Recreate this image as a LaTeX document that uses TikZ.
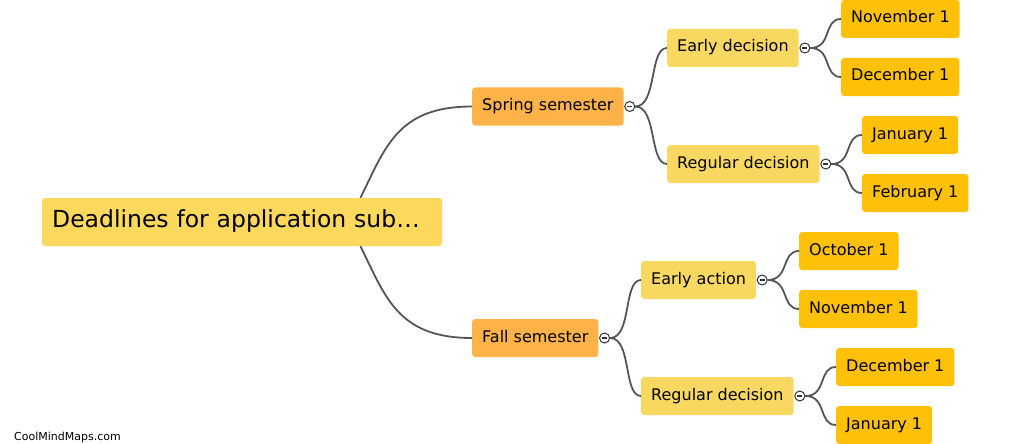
\documentclass[tikz,border=0pt]{standalone}
\usepackage{fontspec}
\setmainfont{DejaVu Sans}
\usepackage{xcolor}
\usetikzlibrary{positioning, calc}

\definecolor{rootfill}{HTML}{FCD85D}
\definecolor{semfill}{HTML}{FFB248}
\definecolor{kindfill}{HTML}{F9D862}
\definecolor{datefill}{HTML}{FFC107}
\definecolor{linkgray}{HTML}{555555}

\begin{document}
\begin{tikzpicture}[x=1pt, y=-1pt,
    box/.style={rounded corners=3pt, anchor=west, inner xsep=10pt, inner ysep=0pt,
                font=\fontsize{16}{19}\selectfont, text height=12pt, text depth=4pt,
                minimum height=38pt, text=black},
    rootbox/.style={box, fill=rootfill, font=\fontsize{23.5}{28}\selectfont,
                text width=380pt, align=left,
                text height=17pt, text depth=6pt, minimum height=48pt},
    sembox/.style={box, fill=semfill},
    kindbox/.style={box, fill=kindfill},
    datebox/.style={box, fill=datefill},
    link/.style={draw=linkgray, line width=1.8pt},
    collapse/.style={circle, draw=black!80, fill=white, line width=1pt,
                minimum size=10pt, inner sep=0pt,
                path picture={\draw[line width=1.2pt, black!80]
                  ([xshift=-2.6pt]path picture bounding box.center) --
                  ([xshift=2.6pt]path picture bounding box.center);}}]
  \useasboundingbox (0,0) rectangle (1023,444);

  % main topic
  \node[rootbox] (root) at (42,222) {Deadlines for application sub…};

  % semesters
  \node[sembox] (spring) at (472,106.5) {Spring semester};
  \node[sembox] (fall)   at (472,338)   {Fall semester};

  % kinds of decision
  \node[kindbox] (springed) at (667,48)  {Early decision};
  \node[kindbox] (springrd) at (667,164) {Regular decision};
  \node[kindbox] (fallea)   at (641,280) {Early action};
  \node[kindbox] (fallrd)   at (641,396) {Regular decision};

  % dates
  \node[datebox] (nov1) at (841,19)  {November 1};
  \node[datebox] (dec1) at (841,77)  {December 1};
  \node[datebox] (jan1) at (862,135) {January 1};
  \node[datebox] (feb1) at (862,193) {February 1};
  \node[datebox] (oct1) at (799,251) {October 1};
  \node[datebox] (nov2) at (799,309) {November 1};
  \node[datebox] (dec2) at (836,367) {December 1};
  \node[datebox] (jan2) at (836,425) {January 1};

  % links from the main topic
  \draw[link] ([xshift=-82pt]root.north east) .. controls +(25,-50) and +(-75,0) .. (spring.west);
  \draw[link] ([xshift=-82pt]root.south east) .. controls +(25,50) and +(-75,0) .. (fall.west);

  % collapse buttons
  \node[collapse] (spring-c)   at ([xshift=6pt]spring.east)   {};
  \node[collapse] (fall-c)     at ([xshift=6pt]fall.east)     {};
  \node[collapse] (springed-c) at ([xshift=6pt]springed.east) {};
  \node[collapse] (springrd-c) at ([xshift=6pt]springrd.east) {};
  \node[collapse] (fallea-c)   at ([xshift=6pt]fallea.east)   {};
  \node[collapse] (fallrd-c)   at ([xshift=6pt]fallrd.east)   {};

  % branches
  \foreach \from/\to in {spring-c/springed, spring-c/springrd, fall-c/fallea, fall-c/fallrd,
                         springed-c/nov1, springed-c/dec1, springrd-c/jan1, springrd-c/feb1,
                         fallea-c/oct1, fallea-c/nov2, fallrd-c/dec2, fallrd-c/jan2} {
    \draw[link] (\from.east) .. controls +(22,0) and +(-18,0) .. (\to.west);
  }

  \node[anchor=base west, font=\fontsize{11}{13}\selectfont, inner sep=0pt] (wm) at (14,440) {CoolMindMaps.com};
\end{tikzpicture}
\end{document}
